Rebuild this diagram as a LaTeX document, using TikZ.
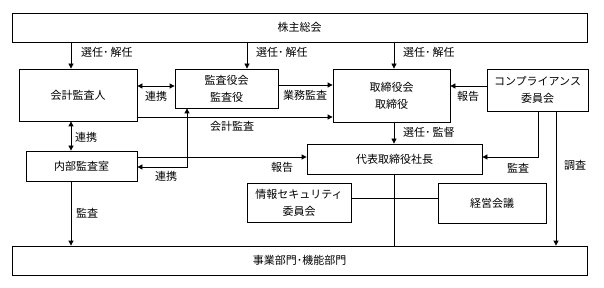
\documentclass[tikz,border=0pt]{standalone}
\usepackage{fontspec}
\setmainfont{Noto Sans CJK JP}
\usetikzlibrary{arrows.meta}
\begin{document}
\begin{tikzpicture}[x=1pt,y=-1pt,
  box/.style={draw=black,line width=0.8pt,fill=white,inner sep=0pt,font=\fontsize{11}{17}\selectfont,align=center},
  lbl/.style={font=\fontsize{11}{13}\selectfont,inner sep=0pt},
  arr/.style={line width=0.8pt,-{Triangle[length=5pt,width=5pt]}},
  arrb/.style={line width=0.8pt,{Triangle[length=5pt,width=5pt]}-{Triangle[length=5pt,width=5pt]}},
  ln/.style={line width=0.8pt}]
\useasboundingbox (0,0) rectangle (604,288);
\fill[white] (0,0) rectangle (604,288);
% boxes
\node[box,minimum width=575pt,minimum height=29pt] (top) at (299.5,27.5) {株主総会};
\node[box,minimum width=118pt,minimum height=52pt] (kaikei) at (78,95) {会計監査人};
\node[box,minimum width=103pt,minimum height=39pt] (kansa) at (226.5,88.5) {監査役会\\監査役};
\node[box,minimum width=117pt,minimum height=53pt] (tori) at (391.5,95.5) {取締役会\\取締役};
\node[box,minimum width=101pt,minimum height=42pt] (comp) at (537.5,90) {コンプライアンス\\委員会};
\node[box,minimum width=111pt,minimum height=30pt] (naibu) at (81.5,166) {内部監査室};
\node[box,minimum width=175pt,minimum height=30pt] (shacho) at (394.5,159) {代表取締役社長};
\node[box,minimum width=104pt,minimum height=39pt] (joho) at (299,202.5) {情報セキュリティ\\委員会};
\node[box,minimum width=108pt,minimum height=40pt] (keiei) at (492,203) {経営会議};
\node[box,minimum width=575pt,minimum height=29pt] (bottom) at (299.5,260.5) {事業部門･機能部門};
% top arrows
\draw[arr] (top.south -| 71,0) -- (kaikei.north -| 71,0);
\node[lbl,anchor=west] (l1) at (81,52) {選任･\,解任};
\draw[arr] (top.south -| 247,0) -- (kansa.north -| 247,0);
\node[lbl,anchor=west] (l2) at (256,52) {選任･\,解任};
\draw[arr] (top.south -| 394,0) -- (tori.north -| 394,0);
\node[lbl,anchor=west] (l3) at (403,52) {選任･\,解任};
% second row links
\draw[arrb] (kaikei.east |- 0,86) -- (kansa.west |- 0,86);
\node[lbl] (l4) at (156,96) {連携};
\draw[arr] (kansa.east |- 0,85) -- (tori.west |- 0,85);
\node[lbl] (l5) at (305,95) {業務監査};
\draw[arr] (kaikei.east |- 0,117) -- (tori.west |- 0,117);
\node[lbl] (l6) at (232,126) {会計監査};
\draw[arr] (comp.west |- 0,86) -- (tori.east |- 0,86);
\node[lbl] (l7) at (468,96) {報告};
\draw[arr] (tori.south -| 394,0) -- (shacho.north -| 394,0);
\node[lbl,anchor=west] (l8) at (403,132) {選任･\,監督};
% left column
\draw[arrb] (kaikei.south -| 71,0) -- (naibu.north -| 71,0);
\node[lbl,anchor=west] (l9) at (75,137) {連携};
\draw[arr] (naibu.east |- 0,157) -- (shacho.west |- 0,157);
\node[lbl] (l10) at (282,167) {報告};
\draw[arrb] (kansa.south -| 187,0) -- (187,167) -- (naibu.east |- 0,167);
\node[lbl] (l11) at (166,176) {連携};
\draw[arr] (naibu.south -| 71,0) -- (bottom.north -| 71,0);
\node[lbl,anchor=west] (l12) at (76,213) {監査};
% compliance
\draw[arr] (comp.south -| 538,0) -- (538,157) -- (shacho.east |- 0,157);
\node[lbl] (l13) at (518,168) {監査};
\draw[arr] (comp.south -| 556,0) -- (bottom.north -| 556,0);
\node[lbl] (l14) at (575,165) {調査};
% president lines
\draw[ln] (shacho.south -| 394,0) -- (bottom.north -| 394,0);
\draw[ln] (joho.east |- 0,198) -- (keiei.west |- 0,198);
\end{tikzpicture}
\end{document}
